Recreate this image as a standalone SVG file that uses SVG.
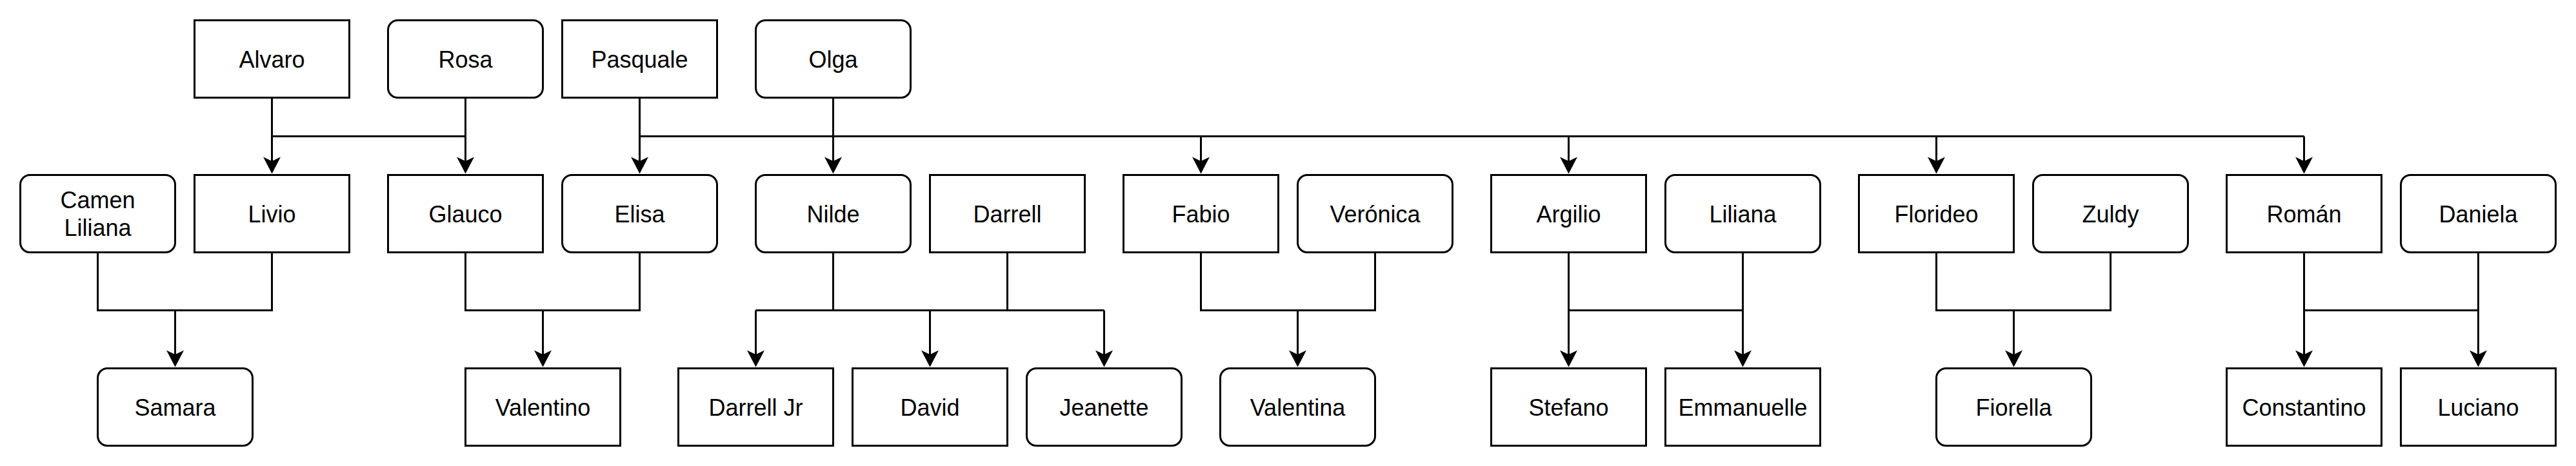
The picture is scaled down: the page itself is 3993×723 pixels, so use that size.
<svg xmlns="http://www.w3.org/2000/svg" width="3993" height="723" viewBox="0 0 3993 723">
<style>
.n rect{fill:#fff;stroke:#000;stroke-width:3}
.n text{font-family:"Liberation Sans",Arial,Helvetica,sans-serif;font-size:36px;fill:#000;text-anchor:middle}
.e path{fill:none;stroke:#000;stroke-width:3}
.e path.a{marker-end:url(#arr)}
</style>
<defs>
<marker id="arr" markerUnits="userSpaceOnUse" markerWidth="27" markerHeight="28" refX="6.5" refY="14" orient="auto" overflow="visible">
<path d="M0,0.5 L26,14 L0,27.5 L6.5,14 Z" fill="#000"/>
</marker>
</defs>
<rect width="3993" height="723" fill="#fff"/>
<g class="e" id="connectors">
<path d="M421.5,151.5 V211.5 H721.5"/>
<path class="a" d="M421.5,151.5 V250"/>
<path class="a" d="M721.5,151.5 V250"/>
<path d="M991.5,211.5 H3571.5"/>
<path class="a" d="M991.5,151.5 V250"/>
<path class="a" d="M1291.5,151.5 V250"/>
<path class="a" d="M1861.5,211.5 V250"/>
<path class="a" d="M2431.5,211.5 V250"/>
<path class="a" d="M3001.5,211.5 V250"/>
<path class="a" d="M3571.5,211.5 V250"/>
<path d="M151.5,391.5 V481.5 H421.5 V391.5"/>
<path class="a" d="M271.5,481.5 V550"/>
<path d="M721.5,391.5 V481.5 H991.5 V391.5"/>
<path class="a" d="M841.5,481.5 V550"/>
<path d="M1291.5,391.5 V481.5"/>
<path d="M1561.5,391.5 V481.5"/>
<path d="M1171.5,481.5 H1711.5"/>
<path class="a" d="M1171.5,481.5 V550"/>
<path class="a" d="M1441.5,481.5 V550"/>
<path class="a" d="M1711.5,481.5 V550"/>
<path d="M1861.5,391.5 V481.5 H2131.5 V391.5"/>
<path class="a" d="M2011.5,481.5 V550"/>
<path d="M2431.5,391.5 V481.5 H2701.5 V391.5"/>
<path class="a" d="M2431.5,481.5 V550"/>
<path class="a" d="M2701.5,481.5 V550"/>
<path d="M3001.5,391.5 V481.5 H3271.5 V391.5"/>
<path class="a" d="M3121.5,481.5 V550"/>
<path d="M3571.5,391.5 V481.5 H3841.5 V391.5"/>
<path class="a" d="M3571.5,481.5 V550"/>
<path class="a" d="M3841.5,481.5 V550"/>
</g>
<g class="n" id="alvaro"><rect x="301.5" y="31.5" width="240" height="120"/><text x="421.5" y="104.5">Alvaro</text></g>
<g class="n" id="rosa"><rect x="601.5" y="31.5" width="240" height="120" rx="15"/><text x="721.5" y="104.5">Rosa</text></g>
<g class="n" id="pasquale"><rect x="871.5" y="31.5" width="240" height="120"/><text x="991.5" y="104.5">Pasquale</text></g>
<g class="n" id="olga"><rect x="1171.5" y="31.5" width="240" height="120" rx="15"/><text x="1291.5" y="104.5">Olga</text></g>
<g class="n" id="camen"><rect x="31.5" y="271.5" width="240" height="120" rx="15"/><text x="151.5" y="323">Camen</text><text x="151.5" y="366">Liliana</text></g>
<g class="n" id="livio"><rect x="301.5" y="271.5" width="240" height="120"/><text x="421.5" y="344.5">Livio</text></g>
<g class="n" id="glauco"><rect x="601.5" y="271.5" width="240" height="120"/><text x="721.5" y="344.5">Glauco</text></g>
<g class="n" id="elisa"><rect x="871.5" y="271.5" width="240" height="120" rx="15"/><text x="991.5" y="344.5">Elisa</text></g>
<g class="n" id="nilde"><rect x="1171.5" y="271.5" width="240" height="120" rx="15"/><text x="1291.5" y="344.5">Nilde</text></g>
<g class="n" id="darrell"><rect x="1441.5" y="271.5" width="240" height="120"/><text x="1561.5" y="344.5">Darrell</text></g>
<g class="n" id="fabio"><rect x="1741.5" y="271.5" width="240" height="120"/><text x="1861.5" y="344.5">Fabio</text></g>
<g class="n" id="veronica"><rect x="2011.5" y="271.5" width="240" height="120" rx="15"/><text x="2131.5" y="344.5">Verónica</text></g>
<g class="n" id="argilio"><rect x="2311.5" y="271.5" width="240" height="120"/><text x="2431.5" y="344.5">Argilio</text></g>
<g class="n" id="liliana"><rect x="2581.5" y="271.5" width="240" height="120" rx="15"/><text x="2701.5" y="344.5">Liliana</text></g>
<g class="n" id="florideo"><rect x="2881.5" y="271.5" width="240" height="120"/><text x="3001.5" y="344.5">Florideo</text></g>
<g class="n" id="zuldy"><rect x="3151.5" y="271.5" width="240" height="120" rx="15"/><text x="3271.5" y="344.5">Zuldy</text></g>
<g class="n" id="roman"><rect x="3451.5" y="271.5" width="240" height="120"/><text x="3571.5" y="344.5">Román</text></g>
<g class="n" id="daniela"><rect x="3721.5" y="271.5" width="240" height="120" rx="15"/><text x="3841.5" y="344.5">Daniela</text></g>
<g class="n" id="samara"><rect x="151.5" y="571.5" width="240" height="120" rx="15"/><text x="271.5" y="644.5">Samara</text></g>
<g class="n" id="valentino"><rect x="721.5" y="571.5" width="240" height="120"/><text x="841.5" y="644.5">Valentino</text></g>
<g class="n" id="darrelljr"><rect x="1051.5" y="571.5" width="240" height="120"/><text x="1171.5" y="644.5">Darrell Jr</text></g>
<g class="n" id="david"><rect x="1321.5" y="571.5" width="240" height="120"/><text x="1441.5" y="644.5">David</text></g>
<g class="n" id="jeanette"><rect x="1591.5" y="571.5" width="240" height="120" rx="15"/><text x="1711.5" y="644.5">Jeanette</text></g>
<g class="n" id="valentina"><rect x="1891.5" y="571.5" width="240" height="120" rx="15"/><text x="2011.5" y="644.5">Valentina</text></g>
<g class="n" id="stefano"><rect x="2311.5" y="571.5" width="240" height="120"/><text x="2431.5" y="644.5">Stefano</text></g>
<g class="n" id="emmanuelle"><rect x="2581.5" y="571.5" width="240" height="120"/><text x="2701.5" y="644.5">Emmanuelle</text></g>
<g class="n" id="fiorella"><rect x="3001.5" y="571.5" width="240" height="120" rx="15"/><text x="3121.5" y="644.5">Fiorella</text></g>
<g class="n" id="constantino"><rect x="3451.5" y="571.5" width="240" height="120"/><text x="3571.5" y="644.5">Constantino</text></g>
<g class="n" id="luciano"><rect x="3721.5" y="571.5" width="240" height="120"/><text x="3841.5" y="644.5">Luciano</text></g>
</svg>
